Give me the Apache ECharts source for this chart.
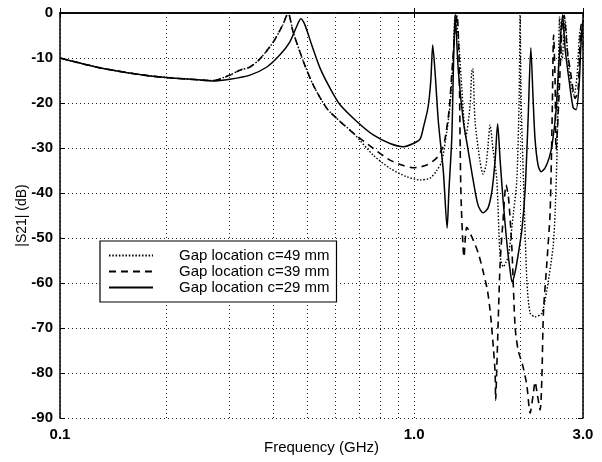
<!DOCTYPE html>
<html><head><meta charset="utf-8">
<script src="https://cdn.jsdelivr.net/npm/echarts@6/dist/echarts.min.js"></script>
<style>html,body{margin:0;padding:0;background:#fff}#c{width:602px;height:462px}</style>
</head><body><div id="c"></div>
<script>
// Frequency (GHz) and |S21| (dB) for each gap location
const f49 = [0.100,0.130,0.180,0.249,0.270,0.302,0.322,0.344,0.367,0.400,0.426,0.441,0.455,0.487,0.519,0.567,0.618,0.674,0.767,0.855,0.954,1.040,1.110,1.159,1.197,1.237,1.264,1.291,1.306,1.334,1.364,1.400,1.440,1.455,1.465,1.487,1.536,1.566,1.597,1.618,1.639,1.672,1.713,1.750,1.788,1.819,1.847,1.908,1.951,1.980,1.993,2.006,2.037,2.082,2.127,2.197,2.295,2.371,2.470,2.502,2.535,2.560,2.576,2.619,2.671,2.723,2.777,2.831,2.887,2.944,3.000];
const db49 = [-10.0,-12.2,-14.0,-14.9,-15.0,-13.8,-12.7,-12.0,-10.2,-6.5,-2.6,0,-4.1,-10.8,-16.0,-21.2,-24.1,-26.7,-31.6,-34.5,-36.4,-37.1,-36.7,-35.0,-33.0,-26.4,-20.4,-9.3,-0.4,-5.6,-16.7,-27.5,-20.4,-13.0,-12.3,-24.1,-33.0,-35.8,-33.8,-29.3,-24.9,-30.4,-37.1,-54.1,-56.4,-55.3,-54.1,-44.5,-37.1,-19.3,-0.4,-19.3,-37.1,-59.3,-66.7,-67.5,-66.7,-61.6,-51.9,-44.4,-30.4,-10.4,-0.9,-10.4,-1.6,-10.4,-16.0,-18.2,-13.8,-3.8,-8.2];

const f39 = [0.100,0.130,0.180,0.249,0.270,0.302,0.322,0.344,0.367,0.400,0.426,0.441,0.455,0.487,0.519,0.567,0.618,0.674,0.767,0.855,0.933,0.995,1.086,1.159,1.203,1.224,1.256,1.280,1.306,1.323,1.340,1.349,1.358,1.384,1.409,1.455,1.519,1.571,1.611,1.639,1.656,1.674,1.694,1.700,1.713,1.750,1.784,1.819,1.847,1.888,1.929,1.967,2.025,2.082,2.127,2.169,2.197,2.230,2.270,2.295,2.319,2.371,2.422,2.454,2.478,2.502,2.518,2.568,2.619,2.653,2.706,2.777,2.850,2.906,2.964,3.000];
const db39 = [-10.0,-12.2,-14.0,-14.9,-15.0,-13.8,-12.7,-12.0,-10.2,-6.5,-2.6,0,-4.1,-10.8,-16.0,-21.2,-24.1,-26.7,-30.1,-32.7,-33.9,-34.4,-33.8,-32.2,-30.0,-27.8,-21.6,-12.7,-3.8,-0.4,-10.4,-28.2,-41.6,-54.2,-47.6,-49.7,-53.4,-57.8,-61.6,-66.0,-69.7,-74.2,-80.0,-86.0,-78.6,-55.6,-46.0,-38.2,-40.8,-51.9,-69.7,-74.9,-78.2,-82.7,-88.9,-84.9,-82.0,-84.9,-88.2,-81.6,-66.7,-55.6,-44.4,-23.8,-4.9,-14.9,-30.4,-18.0,-2.7,-0.5,-8.0,-14.0,-19.0,-17.0,-2.5,-7.0];

const f29 = [0.100,0.130,0.180,0.249,0.270,0.302,0.344,0.384,0.418,0.446,0.466,0.479,0.492,0.514,0.543,0.579,0.618,0.689,0.767,0.855,0.933,0.995,1.040,1.062,1.095,1.115,1.129,1.146,1.171,1.210,1.240,1.254,1.278,1.291,1.306,1.334,1.378,1.421,1.468,1.516,1.566,1.618,1.661,1.694,1.722,1.750,1.784,1.831,1.867,1.892,1.929,1.967,2.016,2.059,2.099,2.137,2.169,2.197,2.240,2.285,2.345,2.407,2.454,2.518,2.568,2.627,2.671,2.741,2.813,2.868,2.925,2.964,3.000];
const db29 = [-10.0,-12.2,-14.0,-14.9,-15.1,-14.7,-13.8,-12.0,-9.3,-6.4,-3.0,-1.3,-2.7,-7.1,-12.3,-16.7,-20.4,-24.1,-27.1,-29.0,-29.7,-29.0,-28.0,-25.5,-21.0,-15.0,-7.1,-13.0,-24.1,-35.3,-47.8,-39.7,-27.8,-13.0,-0.4,-13.0,-24.1,-30.4,-37.1,-42.7,-44.4,-43.3,-39.3,-32.7,-24.6,-32.7,-41.6,-51.6,-57.1,-59.8,-57.6,-53.8,-48.2,-39.3,-23.8,-7.7,-19.3,-28.2,-33.8,-35.3,-34.4,-32.2,-29.3,-21.6,-10.4,-0.4,-8.0,-15.0,-21.0,-21.5,-16.0,-6.0,-1.5];

const seriesNames = ['Gap location c=49 mm', 'Gap location c=39 mm', 'Gap location c=29 mm'];
const xMinorGrid = [0.2, 0.3, 0.4, 0.5, 0.6, 0.7, 0.8, 0.9, 2];
const yMin = -90, yMax = 0, yStep = 10;
const xMin = 0.1, xMax = 3.0;

const zip = (a, b) => a.map((v, i) => [v, b[i]]);
const FONT = '"Liberation Sans", Arial, Helvetica, sans-serif';
const gridDots = { color: '#222', width: 1, type: [1, 3] };

const chart = echarts.init(document.getElementById('c'), null, { renderer: 'canvas' });
const option = {
  animation: false,
  backgroundColor: '#fff',
  grid: { left: 60, right: 19, top: 13, bottom: 44, containLabel: false },
  xAxis: [{
    type: 'log', logBase: 10, min: xMin, max: xMax,
    name: 'Frequency (GHz)', nameLocation: 'middle', nameGap: 22, nameMoveOverlap: false,
    nameTextStyle: { fontFamily: FONT, fontSize: 15, color: '#000' },
    axisLine: { show: true, lineStyle: { color: '#000', width: 1.5 } },
    axisTick: { show: true, inside: true, length: 5, lineStyle: { color: '#000' } },
    axisLabel: { formatter: v => Number(v).toFixed(1), margin: 9, fontFamily: FONT, fontSize: 15, fontWeight: 'bold', color: '#000', showMinLabel: true, showMaxLabel: true },
    splitLine: { show: true, lineStyle: gridDots }
  }, {
    type: 'log', logBase: 10, min: xMin, max: xMax, position: 'top',
    axisLine: { show: true, lineStyle: { color: '#000', width: 1.5 } },
    axisTick: { show: true, inside: true, length: 5, lineStyle: { color: '#000' } },
    axisLabel: { show: false }, splitLine: { show: false }
  }],
  yAxis: [{
    type: 'value', min: yMin, max: yMax, interval: yStep,
    name: '|S21| (dB)', nameLocation: 'middle', nameGap: 31, nameRotate: 90, nameMoveOverlap: false,
    nameTextStyle: { fontFamily: FONT, fontSize: 14, color: '#000' },
    axisLine: { show: true, lineStyle: { color: '#000', width: 1.5 } },
    axisTick: { show: true, inside: true, length: 5, lineStyle: { color: '#000' } },
    axisLabel: { margin: 7, fontFamily: FONT, fontSize: 15, fontWeight: 'bold', color: '#000' },
    splitLine: { show: true, lineStyle: gridDots }
  }, {
    type: 'value', min: yMin, max: yMax, interval: yStep, position: 'right',
    axisLine: { show: true, lineStyle: { color: '#000', width: 1.5 } },
    axisTick: { show: true, inside: true, length: 5, lineStyle: { color: '#000' } },
    axisLabel: { show: false }, splitLine: { show: false }
  }],
  legend: {
    orient: 'vertical', left: 100, top: 241,
    data: seriesNames,
    backgroundColor: '#fff', borderColor: '#000', borderWidth: 1.2,
    padding: [7, 7, 7, 8], itemGap: 1, itemWidth: 44, itemHeight: 14,
    itemStyle: { opacity: 0 },
    textStyle: { fontFamily: FONT, fontSize: 15, color: '#000', padding: [0, 0, 0, 21] },
    selectedMode: false
  },
  series: [{
    name: seriesNames[0], type: 'line', data: zip(f49, db49),
    symbol: 'none', showSymbol: false, clip: true, z: 3, smooth: 0.25,
    lineStyle: { color: '#000', width: 1.4, type: [1.5, 1.8] },
    markLine: {
      silent: true, symbol: 'none', label: { show: false }, animation: false,
      lineStyle: gridDots, z: 1,
      data: xMinorGrid.map(v => ({ xAxis: v }))
    }
  }, {
    name: seriesNames[1], type: 'line', data: zip(f39, db39),
    symbol: 'none', showSymbol: false, clip: true, z: 4, smooth: 0.25,
    lineStyle: { color: '#000', width: 1.6, type: [7, 5] }
  }, {
    name: seriesNames[2], type: 'line', data: zip(f29, db29),
    symbol: 'none', showSymbol: false, clip: true, z: 5, smooth: 0.25,
    lineStyle: { color: '#000', width: 1.5, type: 'solid' }
  }]
};
chart.setOption(option);
</script>
</body></html>
